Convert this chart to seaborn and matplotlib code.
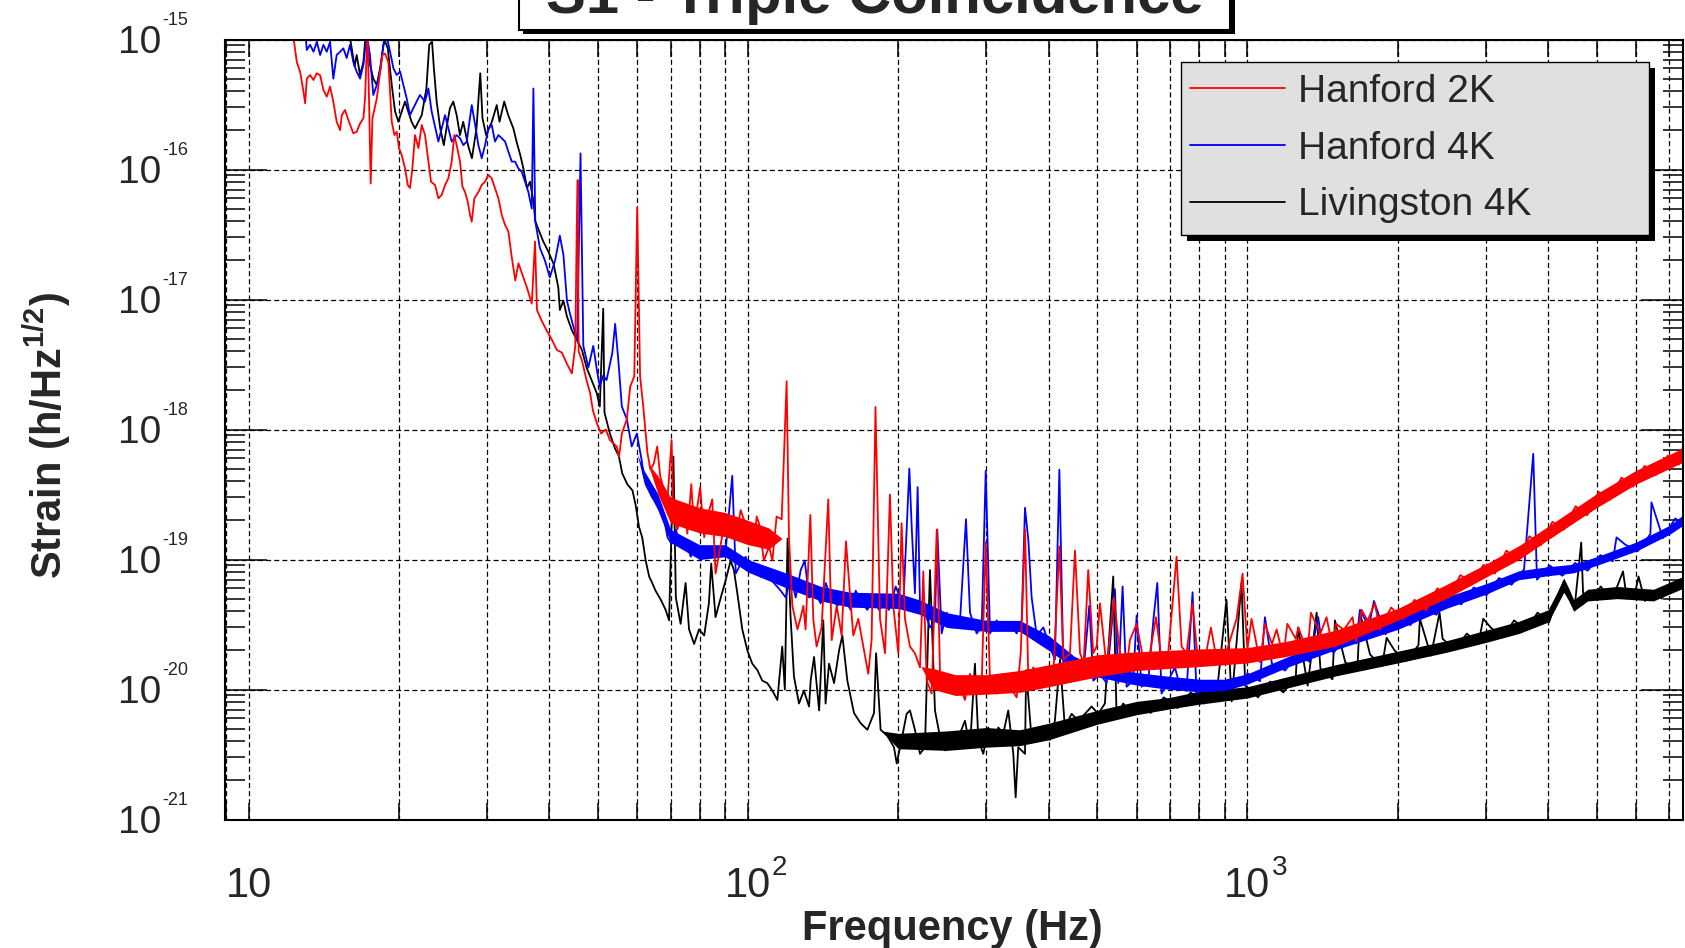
import numpy as np
import pandas as pd
import matplotlib
matplotlib.use("Agg")
import matplotlib.pyplot as plt
import matplotlib.transforms as mtrans
from matplotlib.patches import Rectangle
from matplotlib.ticker import FixedLocator, LogLocator, NullFormatter, FixedFormatter
import seaborn as sns

# ---------------- data ----------------
title_text = "S1 - Triple Coincidence"
series_names = ["Hanford 2K", "Hanford 4K", "Livingston 4K"]
series_colors = ["#ff0000", "#0000ff", "#000000"]

xtick_values = [10, 100, 1000]
xtick_base = ["10", "10", "10"]
xtick_exp = ["", "2", "3"]
ytick_values = [1e-21, 1e-20, 1e-19, 1e-18, 1e-17, 1e-16, 1e-15]
ytick_base = ["10"] * 7
ytick_exp = ["-21", "-20", "-19", "-18", "-17", "-16", "-15"]
x_range = (8.97, 7450)
y_range = (1e-21, 1e-15)

# (frequency Hz, strain 1/sqrt(Hz)) readings of each trace
h2k_points = [
    (12.2, 1.3e-15), (12.49, 6.7e-16), (12.68, 5.66e-16), (12.88, 3.97e-16), (12.98, 3.23e-16),
    (13.08, 5.0e-16), (13.28, 5.33e-16), (13.49, 4.88e-16), (13.70, 5.5e-16), (13.91, 5.3e-16),
    (14.12, 4.09e-16), (14.34, 3.63e-16), (14.56, 4.34e-16), (14.78, 3.33e-16), (15.01, 2.33e-16),
    (15.25, 2.01e-16), (15.37, 2.62e-16), (15.60, 2.87e-16), (15.84, 2.40e-16), (16.21, 1.90e-16),
    (16.46, 1.95e-16), (16.72, 2.26e-16), (16.98, 2.48e-16), (17.11, 3.52e-16), (17.30, 1.2e-15),
    (17.43, 3.3e-16), (17.56, 7.8e-17), (17.70, 2.48e-16), (18.06, 3.52e-16), (18.34, 5.66e-16),
    (18.53, 7.6e-16), (18.76, 7.8e-16), (19.05, 6.7e-16), (19.20, 3.97e-16), (19.35, 2.33e-16),
    (19.59, 1.84e-16), (19.80, 1.95e-16), (20.01, 1.46e-16), (20.26, 1.29e-16), (20.57, 1.02e-16),
    (20.83, 7.6e-17), (21.05, 7.2e-17), (21.28, 1.02e-16), (21.54, 1.84e-16), (21.88, 1.46e-16),
    (22.22, 2.2e-16), (22.56, 1.84e-16), (22.91, 1.15e-16), (23.19, 8.05e-17), (23.62, 7.6e-17),
    (23.99, 6.0e-17), (24.36, 6.37e-17), (24.74, 7.6e-17), (25.12, 8.55e-17), (25.51, 1.15e-16),
    (25.82, 1.84e-16), (26.10, 1.54e-16), (26.51, 1.15e-16), (26.80, 7.4e-17), (27.13, 6.7e-17),
    (27.47, 5.66e-17), (27.76, 4.47e-17), (27.98, 3.97e-17), (28.32, 6.0e-17), (28.85, 6.7e-17),
    (29.30, 7.6e-17), (29.75, 8.05e-17), (30.21, 9.1e-17), (30.68, 8.55e-17), (31.15, 7.2e-17),
    (31.64, 6.0e-17), (32.13, 4.47e-17), (32.63, 3.74e-17), (33.13, 3.33e-17), (33.6, 2.2e-17),
    (34.2, 1.4e-17), (34.7, 1.9e-17), (35.5, 1.48e-17), (36.1, 1.23e-17), (36.9, 9.3e-18),
    (37.46, 2.79e-17), (37.8, 8.3e-18), (38.6, 6.9e-18), (39.5, 5.8e-18), (40.5, 4.9e-18),
    (41.4, 4.1e-18), (42.4, 3.9e-18), (43.4, 3.2e-18), (44.4, 2.7e-18), (45.1, 4.4e-18),
    (45.4, 3.5e-17), (45.6, 8.3e-17), (45.8, 4.0e-18), (46.5, 3.4e-18), (47.5, 2.4e-18),
    (48.3, 1.9e-18), (48.9, 1.41e-18), (49.8, 1.12e-18), (50.8, 9.3e-19), (51.9, 1.0e-18),
    (52.9, 8.3e-19), (54.6, 7.4e-19), (55.2, 6.2e-19), (55.9, 9.3e-19), (57.2, 1.2e-18),
    (58.1, 2.14e-18), (59.2, 2.57e-18), (60.0, 5.1e-17), (60.8, 2.57e-18), (61.7, 1.5e-18),
    (62.9, 6.6e-19), (63.8, 4.9e-19), (64.8, 5.5e-19), (65.8, 7.4e-19), (66.7, 4.4e-19),
    (67.9, 3.4e-19), (69.0, 2.9e-19), (70.3, 8.3e-19), (70.9, 2.24e-19), (72.2, 1.7e-19),
    (74.5, 2.7e-19), (75.6, 1.58e-19), (77.0, 3.8e-19), (78.0, 1.7e-19), (80.2, 3.6e-19),
    (81.7, 1.48e-19), (82.9, 2.14e-19), (84.8, 2.9e-19), (86.1, 7.8e-20), (88.2, 1.32e-19),
    (90.2, 2.14e-19), (92.3, 1.7e-19), (94.5, 1.48e-19), (96.7, 2.4e-19), (98.2, 2.0e-19),
    (100.5, 1.41e-19), (102.8, 1.32e-19), (104.1, 2.14e-19), (105.2, 1.9e-19), (107.6, 9.8e-20),
    (110.2, 1.26e-19), (111.9, 9.8e-20), (114.1, 2.14e-19), (116.8, 2.04e-19), (119.5, 2.35e-18),
    (120.8, 1.48e-19), (122.7, 4.4e-20), (125.6, 2.9e-20), (127.5, 3.6e-20), (129.1, 4.4e-20),
    (130.4, 2.9e-20), (133.3, 2.2e-19), (135.1, 3.5e-20), (137.2, 2.14e-20), (140.4, 3.0e-20),
    (144.8, 2.9e-19), (147.1, 2.4e-20), (150.5, 4.4e-20), (154.0, 2.6e-20), (157.1, 1.38e-19),
    (160.0, 5.5e-20), (162.5, 2.6e-20), (166.3, 3.5e-20), (170.2, 2.14e-20), (174.1, 1.32e-20),
    (176.8, 2.4e-20), (180.0, 1.49e-18), (183.8, 3.5e-20), (188.1, 1.9e-20), (192.4, 3.16e-19),
    (195.4, 4.4e-20), (200.0, 1.9e-20), (203.0, 1.9e-19), (206.2, 3.5e-20), (211.0, 2.14e-20),
    (215.9, 1.9e-20), (221.0, 1.48e-20), (224.4, 8.1e-20), (227.9, 1.17e-20), (233.2, 9.3e-21),
    (238.7, 1.7e-19), (242.4, 1.32e-20), (249.9, 1.05e-20), (257.7, 9.3e-21), (263.8, 1.17e-20),
    (271.9, 8.3e-21), (278.3, 1.32e-20), (287.0, 9.3e-21), (293.7, 1.12e-20), (299.2, 1.35e-19),
    (305.2, 1.17e-20), (314.7, 9.3e-21), (324.5, 1.32e-20), (334.6, 1.05e-20), (345.1, 8.7e-21),
    (351.6, 1.9e-20), (358.7, 1.7e-19), (364.2, 1.17e-20), (372.7, 1.48e-20), (384.3, 1.17e-20),
    (396.3, 1.48e-20), (408.7, 1.32e-20), (420.2, 1.26e-19), (428.0, 1.7e-20), (441.3, 1.9e-20),
    (451.6, 1.17e-19), (462.2, 1.9e-20), (470.0, 1.6e-20), (480.0, 8.3e-20), (491.3, 1.9e-20),
    (498.9, 2.14e-20), (506.7, 4.6e-20), (522.4, 1.48e-20), (540.4, 5.1e-20), (555.5, 1.9e-20),
    (572.9, 1.48e-20), (581.8, 2.4e-20), (600.0, 3.2e-20), (618.7, 1.7e-20), (638.0, 1.9e-20),
    (656.0, 3.6e-20), (673.2, 1.7e-20), (694.1, 1.9e-20), (721.3, 1.05e-19), (738.2, 2.14e-20),
    (755.3, 1.9e-20), (776.5, 4.6e-20), (797.1, 1.58e-20), (822.0, 1.7e-20), (845.0, 3.0e-20),
    (867.7, 1.7e-20), (901.6, 1.78e-20), (951.3, 3.5e-20), (977.9, 7.8e-20), (1000, 2.04e-20),
    (1019, 3.5e-20), (1060, 1.62e-20), (1084, 3.2e-20), (1120, 2.24e-20), (1144, 2.9e-20),
    (1180, 1.78e-20), (1202, 3.2e-20), (1250, 2.45e-20), (1264, 3.0e-20), (1320, 1.95e-20),
    (1340, 3.9e-20), (1400, 2.69e-20), (1440, 3.6e-20), (1480, 2.14e-20), (1504, 3.2e-20),
    (1560, 2.88e-20), (1624, 3.6e-20), (1650, 2.34e-20), (1693, 4.1e-20), (1740, 3.39e-20),
    (1800, 4.6e-20), (1840, 2.88e-20), (1940, 4.27e-20), (2050, 3.47e-20), (2160, 4.9e-20),
    (2280, 4.07e-20), (2400, 6.0e-20), (2530, 5.1e-20), (2670, 7.6e-20), (2820, 6.5e-20),
    (2970, 9.1e-20), (3130, 7.8e-20), (3300, 1.17e-19), (3480, 1.0e-19), (3670, 1.51e-19),
    (3870, 1.29e-19), (4080, 1.95e-19), (4300, 1.7e-19), (4540, 2.57e-19), (4790, 2.19e-19),
    (5050, 3.31e-19), (5320, 2.88e-19), (5610, 4.27e-19), (5920, 3.63e-19), (6240, 5.25e-19),
    (6580, 4.47e-19), (6940, 6.3e-19), (7310, 5.37e-19), (7450, 7.4e-19),
]

h4k_points = [
    (8.97, 9.3e-16), (9.1, 1.5e-15), (12.9, 1.5e-15), (13.08, 8.3e-16), (13.28, 9.1e-16),
    (13.49, 8.05e-16), (13.70, 9.6e-16), (13.91, 7.6e-16), (14.12, 9.1e-16), (14.34, 8.05e-16),
    (14.56, 9.6e-16), (14.78, 5.0e-16), (15.01, 7.6e-16), (15.25, 8.05e-16), (15.48, 8.55e-16),
    (15.72, 7.2e-16), (15.96, 9.1e-16), (16.21, 6.7e-16), (16.46, 5.66e-16), (16.72, 5.0e-16),
    (16.98, 6.4e-16), (17.24, 1.1e-15), (17.50, 7.6e-16), (17.77, 3.74e-16), (18.06, 4.47e-16),
    (18.34, 5.66e-16), (18.61, 9.1e-16), (18.91, 1.05e-15), (19.20, 8.05e-16), (19.50, 6.0e-16),
    (19.80, 5.33e-16), (20.11, 5.66e-16), (20.42, 4.47e-16), (20.73, 3.52e-16), (21.05, 2.62e-16),
    (21.37, 2.96e-16), (21.70, 3.33e-16), (22.04, 3.74e-16), (22.56, 3.33e-16), (22.91, 4.2e-16),
    (23.26, 2.79e-16), (23.99, 1.64e-16), (24.36, 2.07e-16), (24.74, 2.62e-16), (25.12, 2.07e-16),
    (25.51, 1.64e-16), (26.10, 1.84e-16), (26.51, 1.74e-16), (26.92, 1.54e-16), (27.34, 1.64e-16),
    (27.98, 3.13e-16), (28.50, 2.07e-16), (28.85, 1.54e-16), (29.30, 1.22e-16), (29.75, 1.54e-16),
    (30.21, 2.07e-16), (30.68, 2.2e-16), (31.15, 1.64e-16), (31.64, 1.84e-16), (32.13, 1.74e-16),
    (32.63, 1.64e-16), (33.13, 1.37e-16), (33.65, 1.15e-16), (34.16, 1.15e-16), (34.69, 1.02e-16),
    (35.24, 9.6e-17), (35.78, 8.05e-17), (36.33, 6.7e-17), (36.90, 5.0e-17), (37.18, 4.2e-16),
    (37.5, 4.0e-17), (38.3, 2.5e-17), (39.2, 2.0e-17), (40.1, 1.48e-17), (41.1, 2.0e-17),
    (42.0, 3.1e-17), (42.7, 2.2e-17), (43.4, 9.8e-18), (44.0, 7.8e-18), (44.7, 6.2e-18),
    (45.5, 4.9e-18), (46.2, 1.33e-16), (46.8, 4.4e-18), (47.9, 3.0e-18), (49.0, 4.4e-18),
    (49.8, 2.9e-18), (50.5, 2.14e-18), (51.3, 2.6e-18), (52.1, 2.4e-18), (53.5, 3.9e-18),
    (54.2, 6.5e-18), (55.0, 3.4e-18), (55.9, 1.5e-18), (57.2, 1.2e-18), (58.5, 7.4e-19),
    (59.9, 9.3e-19), (61.2, 5.9e-19), (61.9, 4.4e-19), (62.9, 3.6e-19), (64.3, 3.0e-19),
    (65.8, 2.7e-19), (67.4, 2.4e-19), (69.0, 1.48e-19), (70.3, 1.32e-19), (71.7, 1.7e-19),
    (73.3, 1.26e-19), (75.0, 1.41e-19), (76.8, 1.05e-19), (78.6, 1.26e-19), (80.4, 9.8e-20),
    (82.3, 1.12e-19), (84.2, 1.05e-19), (86.1, 1.17e-19), (88.2, 1.26e-19), (90.2, 1.17e-19),
    (93.0, 4.4e-19), (94.5, 7.8e-20), (96.7, 9.3e-20), (98.9, 1.05e-19), (101.2, 8.3e-20),
    (103.6, 8.3e-20), (106.0, 7.4e-20), (109.3, 7.4e-20), (112.7, 6.6e-20), (116.3, 5.75e-20),
    (119.0, 5.1e-20), (121.7, 7.4e-20), (124.6, 5.1e-20), (127.5, 8.3e-20), (129.9, 9.8e-20),
    (132.5, 5.1e-20), (136.6, 5.5e-20), (139.8, 4.6e-20), (143.1, 6.6e-20), (146.4, 5.1e-20),
    (151.0, 4.4e-20), (155.7, 5.1e-20), (160.5, 4.1e-20), (164.3, 5.75e-20), (169.4, 4.6e-20),
    (173.4, 4.1e-20), (177.4, 5.1e-20), (183.0, 4.1e-20), (187.2, 4.6e-20), (191.6, 4.1e-20),
    (197.6, 6.2e-20), (204.6, 4.4e-20), (210.4, 5.0e-19), (212.7, 1.78e-19), (215.9, 5.5e-20),
    (218.6, 3.6e-19), (221.0, 4.4e-20), (226.1, 3.9e-20), (231.4, 3.0e-20), (236.8, 3.4e-20),
    (239.3, 1.7e-19), (244.2, 2.7e-20), (249.9, 3.9e-20), (257.7, 3.0e-20), (265.8, 3.4e-20),
    (273.2, 2.04e-19), (278.3, 3.9e-20), (287.0, 2.7e-20), (293.7, 3.0e-20), (299.2, 4.8e-19),
    (305.2, 2.7e-20), (314.7, 3.4e-20), (324.5, 2.9e-20), (334.6, 3.2e-20), (345.1, 2.7e-20),
    (353.2, 3.4e-20), (358.6, 2.5e-19), (364.2, 1.41e-19), (369.8, 5.1e-20), (378.5, 2.6e-20),
    (390.3, 3.0e-20), (402.3, 2.14e-20), (411.6, 1.7e-20), (420.2, 4.9e-19), (428.0, 1.48e-20),
    (441.3, 1.7e-20), (455.0, 1.48e-20), (469.2, 1.32e-20), (482.3, 4.4e-20), (491.3, 1.17e-20),
    (506.7, 1.32e-20), (522.4, 1.12e-20), (542.9, 5.9e-20), (551.3, 1.12e-20), (562.4, 6.2e-20),
    (572.9, 1.05e-20), (590.6, 1.17e-20), (600.0, 3.7e-20), (614.0, 1.05e-20), (633.2, 1.17e-20),
    (648.0, 3.4e-20), (660.0, 6.6e-20), (673.2, 9.3e-21), (694.1, 1.17e-20), (715.9, 1.48e-20),
    (732.9, 1.05e-20), (755.3, 9.8e-21), (776.5, 5.6e-20), (791.0, 9.3e-21), (815.7, 1.05e-20),
    (841.4, 9.8e-21), (867.7, 1.12e-20), (894.7, 9.8e-21), (922.6, 1.12e-20), (951.3, 1.17e-20),
    (981.1, 1.12e-20), (1000, 1.33e-20), (1060, 1.16e-20), (1084, 3.6e-20), (1120, 1.57e-20),
    (1190, 1.40e-20), (1260, 1.88e-20), (1330, 1.64e-20), (1386, 3.6e-20), (1410, 2.21e-20),
    (1490, 1.93e-20), (1580, 2.6e-20), (1650, 2.26e-20), (1680, 4.1e-20), (1750, 3.05e-20),
    (1792, 4.8e-20), (1890, 2.66e-20), (2000, 3.5e-20), (2120, 3.13e-20), (2250, 4.2e-20),
    (2390, 3.76e-20), (2530, 5.07e-20), (2680, 4.52e-20), (2840, 6.1e-20), (3010, 5.3e-20),
    (3190, 7.2e-20), (3380, 6.4e-20), (3580, 8.4e-20), (3735, 6.5e-19), (3800, 7.0e-20),
    (4030, 9.0e-20), (4270, 7.5e-20), (4530, 9.4e-20), (4800, 8.2e-20), (5090, 1.08e-19),
    (5390, 9.7e-20), (5483, 1.48e-19), (5710, 1.30e-19), (6050, 1.16e-19), (6410, 1.57e-19),
    (6442, 2.75e-19), (6790, 1.46e-19), (7190, 2.07e-19), (7450, 1.84e-19),
]

l4k_points = [
    (15.8, 1.3e-15), (16.09, 8.55e-16), (16.3, 6.2e-16), (16.46, 7.6e-16), (16.72, 5.33e-16),
    (16.98, 6.7e-16), (17.11, 9.6e-16), (17.50, 6.4e-16), (17.77, 5.0e-16), (18.06, 4.47e-16),
    (18.34, 6.0e-16), (18.7, 1.0e-15), (19.0, 8.55e-16), (19.35, 4.47e-16), (19.65, 2.79e-16),
    (19.95, 2.33e-16), (20.26, 2.79e-16), (20.57, 3.33e-16), (20.88, 2.79e-16), (21.2, 2.33e-16),
    (21.54, 2.07e-16), (22.22, 2.62e-16), (22.7, 4.2e-16), (23.0, 9.1e-16), (23.3, 9.6e-16),
    (23.5, 6.0e-16), (23.8, 3.33e-16), (24.2, 2.07e-16), (24.6, 1.54e-16), (24.9, 2.07e-16),
    (25.3, 2.96e-16), (25.7, 3.33e-16), (26.1, 2.62e-16), (26.5, 1.84e-16), (26.9, 2.33e-16),
    (27.5, 1.54e-16), (28.0, 1.22e-16), (28.6, 2.07e-16), (29.1, 5.5e-16), (29.4, 2.48e-16),
    (29.9, 1.84e-16), (30.7, 2.33e-16), (31.4, 3.13e-16), (31.8, 2.33e-16), (32.5, 3.33e-16),
    (33.1, 2.62e-16), (33.9, 2.07e-16), (34.4, 1.64e-16), (35.0, 1.29e-16), (35.5, 1.02e-16),
    (36.1, 7.2e-17), (36.6, 8.05e-17), (37.2, 5.66e-17), (37.5, 4.0e-17), (38.9, 2.8e-17),
    (39.8, 2.35e-17), (40.8, 1.88e-17), (41.7, 1.24e-17), (42.0, 8.3e-18), (42.7, 9.8e-18),
    (43.4, 7.4e-18), (44.4, 5.8e-18), (45.4, 4.9e-18), (46.5, 4.1e-18), (47.5, 3.0e-18),
    (48.6, 2.4e-18), (49.8, 1.9e-18), (50.5, 1.5e-18), (51.3, 8.5e-18), (51.6, 1.35e-18),
    (52.9, 9.3e-19), (54.2, 7.1e-19), (55.1, 6.3e-19), (56.0, 4.6e-19), (57.3, 3.8e-19),
    (58.7, 3.4e-19), (59.6, 2.6e-19), (60.5, 1.78e-19), (61.4, 1.48e-19), (62.4, 9.8e-20),
    (63.4, 7.4e-20), (64.3, 6.6e-20), (65.3, 5.75e-20), (66.9, 4.9e-20), (68.4, 4.1e-20),
    (69.5, 3.4e-20), (70.9, 6.2e-19), (71.7, 5.1e-20), (73.3, 3.2e-20), (75.0, 6.6e-20),
    (76.2, 2.9e-20), (78.0, 2.24e-20), (79.8, 2.9e-20), (81.7, 2.6e-20), (83.5, 4.6e-20),
    (84.4, 9.3e-20), (86.1, 3.6e-20), (88.2, 5.1e-20), (90.2, 6.9e-20), (92.3, 9.8e-20),
    (93.7, 8.3e-20), (95.2, 5.5e-20), (97.4, 2.9e-20), (99.7, 2.0e-20), (102.0, 1.58e-20),
    (104.4, 1.41e-20), (106.8, 1.17e-20), (109.3, 1.12e-20), (111.9, 9.8e-21), (114.5, 8.3e-21),
    (117.1, 2.14e-20), (118.5, 1.0e-20), (120.0, 1.45e-19), (121.7, 3.6e-20), (123.6, 1.26e-20),
    (126.5, 7.8e-21), (129.4, 9.8e-21), (132.5, 7.4e-21), (133.5, 1.17e-20), (135.6, 1.78e-20),
    (138.8, 6.9e-21), (141.5, 3.4e-20), (143.0, 7.8e-21), (145.3, 1.58e-20), (148.7, 1.12e-20),
    (152.2, 2.0e-20), (154.5, 2.6e-20), (158.1, 1.17e-20), (163.0, 6.6e-21), (168.1, 5.5e-21),
    (173.4, 4.9e-21), (178.8, 6.6e-21), (180.5, 1.9e-20), (184.3, 4.9e-21), (190.1, 4.4e-21),
    (196.0, 3.6e-21), (198.5, 2.7e-21), (203.0, 4.1e-21), (207.8, 6.5e-21), (211.0, 6.9e-21),
    (215.9, 4.9e-21), (221.0, 3.2e-21), (226.1, 3.6e-21), (231.4, 8.3e-20), (236.8, 6.9e-21),
    (242.4, 4.3e-21), (248.0, 3.4e-21), (253.8, 4.6e-21), (259.7, 3.6e-21), (265.8, 4.6e-21),
    (271.9, 5.75e-21), (278.3, 3.6e-21), (284.7, 1.58e-20), (289.2, 4.1e-21), (295.9, 3.2e-21),
    (302.8, 5.1e-21), (309.9, 3.8e-21), (317.1, 5.1e-21), (324.5, 4.6e-21), (332.0, 6.9e-21),
    (339.8, 3.2e-21), (343.5, 1.48e-21), (347.6, 3.6e-21), (358.6, 3.2e-21), (360.5, 1.41e-20),
    (369.8, 4.1e-21), (381.3, 4.3e-21), (393.2, 5.1e-21), (402.3, 4.1e-21), (411.6, 5.75e-21),
    (421.4, 1.7e-20), (431.0, 5.1e-21), (444.6, 6.5e-21), (458.5, 5.75e-21), (472.8, 6.5e-21),
    (487.5, 7.4e-21), (502.6, 6.5e-21), (518.3, 7.8e-21), (538.6, 7.4e-20), (547.0, 6.3e-21),
    (564.1, 7.8e-21), (581.8, 6.6e-21), (600, 7.9e-21), (640, 6.6e-21), (680, 8.7e-21),
    (725, 7.2e-21), (770, 9.5e-21), (820, 7.8e-21), (870, 1.0e-20), (908, 4.9e-20),
    (930, 8.1e-21), (973, 6.6e-20), (990, 1.07e-20), (1050, 8.7e-21), (1110, 1.15e-20),
    (1180, 9.5e-21), (1250, 1.26e-20), (1264, 3.0e-20), (1320, 1.07e-20), (1376, 3.9e-20),
    (1400, 1.45e-20), (1480, 1.2e-20), (1497, 3.4e-20), (1570, 1.62e-20), (1660, 1.41e-20),
    (1680, 3.9e-20), (1760, 1.86e-20), (1860, 1.51e-20), (1900, 2.5e-20), (1970, 2.0e-20),
    (2080, 1.66e-20), (2200, 2.19e-20), (2215, 3.5e-20), (2330, 1.82e-20), (2425, 3.9e-20),
    (2460, 2.45e-20), (2600, 2.04e-20), (2750, 2.69e-20), (2900, 2.24e-20), (2966, 3.5e-20),
    (3070, 3.0e-20), (3240, 2.51e-20), (3420, 3.4e-20), (3610, 2.88e-20), (3810, 3.9e-20),
    (4020, 3.3e-20), (4160, 4.9e-20), (4300, 6.8e-20), (4400, 5.5e-20), (4520, 4.3e-20),
    (4660, 1.35e-19), (4700, 5.5e-20), (4900, 5.0e-20), (5100, 6.2e-20), (5300, 5.0e-20),
    (5500, 6.2e-20), (5650, 8.1e-20), (5750, 5.0e-20), (6000, 6.0e-20), (6070, 7.4e-20),
    (6250, 4.8e-20), (6500, 5.75e-20), (6750, 5.0e-20), (7000, 6.3e-20), (7200, 5.75e-20),
    (7450, 7.1e-20),
]

# core of the dense-noise band of each trace: segments of (frequency, lower edge, upper edge)
h2k_bands = [
    [(63, 5.5e-19, 5.5e-19), (66, 3.2e-19, 4.4e-19), (70, 1.9e-19, 3.0e-19),
     (80, 1.6e-19, 2.5e-19), (90, 1.5e-19, 2.3e-19), (100, 1.3e-19, 2.0e-19),
     (110, 1.2e-19, 1.75e-19), (117, 1.45e-19, 1.45e-19)],
    [(222, 1.5e-20, 1.5e-20), (235, 1.0e-20, 1.45e-20), (260, 9.0e-21, 1.3e-20),
     (300, 9.2e-21, 1.3e-20), (350, 9.5e-21, 1.4e-20), (400, 1.05e-20, 1.55e-20),
     (500, 1.25e-20, 1.85e-20), (600, 1.4e-20, 1.95e-20), (800, 1.5e-20, 2.05e-20),
     (1000, 1.6e-20, 2.1e-20), (1200, 1.8e-20, 2.35e-20), (1500, 2.15e-20, 2.85e-20),
     (2000, 3.4e-20, 4.2e-20), (2500, 5.0e-20, 6.4e-20), (3000, 7.3e-20, 9.2e-20),
     (3500, 1.0e-19, 1.28e-19), (4000, 1.42e-19, 1.8e-19), (5000, 2.5e-19, 3.2e-19),
     (6000, 3.8e-19, 4.85e-19), (7450, 5.6e-19, 7.2e-19)],
]
h4k_bands = [
    [(60, 6.5e-19, 6.5e-19), (62, 3.8e-19, 4.8e-19), (66, 2.4e-19, 3.2e-19),
     (70, 1.35e-19, 1.7e-19), (80, 1.0e-19, 1.3e-19), (90, 1.05e-19, 1.3e-19),
     (100, 8.0e-20, 1.0e-19), (120, 6.0e-20, 7.8e-20), (140, 4.8e-20, 6.2e-20),
     (160, 4.3e-20, 5.6e-20), (200, 4.2e-20, 5.5e-20), (220, 3.8e-20, 4.9e-20),
     (250, 3.0e-20, 3.9e-20), (300, 2.8e-20, 3.4e-20), (350, 2.8e-20, 3.4e-20),
     (400, 2.0e-20, 2.6e-20), (450, 1.45e-20, 1.8e-20), (500, 1.25e-20, 1.5e-20),
     (600, 1.08e-20, 1.35e-20), (700, 1.0e-20, 1.26e-20), (800, 9.6e-21, 1.2e-20),
     (900, 9.8e-21, 1.2e-20), (1000, 1.1e-20, 1.32e-20), (1200, 1.48e-20, 1.78e-20),
     (1500, 2.02e-20, 2.45e-20), (2000, 2.9e-20, 3.5e-20), (2500, 4.2e-20, 5.15e-20),
     (3000, 5.4e-20, 6.5e-20), (3500, 7.0e-20, 8.2e-20), (4000, 7.5e-20, 8.8e-20),
     (4500, 7.9e-20, 9.2e-20), (5000, 9.0e-20, 1.05e-19), (6000, 1.16e-19, 1.36e-19),
     (7000, 1.56e-19, 1.83e-19), (7450, 1.83e-19, 2.2e-19)],
]
l4k_bands = [
    [(185, 4.8e-21, 4.8e-21), (200, 3.5e-21, 4.6e-21), (250, 3.4e-21, 4.8e-21),
     (300, 3.6e-21, 5.1e-21), (350, 3.7e-21, 4.9e-21), (400, 4.1e-21, 5.5e-21),
     (500, 5.4e-21, 6.9e-21), (600, 6.4e-21, 8.1e-21), (700, 7.1e-21, 8.7e-21),
     (800, 7.7e-21, 9.7e-21), (1000, 8.6e-21, 1.05e-20), (1500, 1.27e-20, 1.55e-20),
     (2000, 1.6e-20, 1.97e-20), (2500, 1.93e-20, 2.37e-20), (3000, 2.3e-20, 2.85e-20),
     (3500, 2.7e-20, 3.35e-20), (4000, 3.3e-20, 4.1e-20), (4150, 4.3e-20, 5.4e-20),
     (4300, 5.6e-20, 7.2e-20), (4400, 4.8e-20, 6.0e-20), (4500, 4.0e-20, 4.9e-20),
     (4800, 4.8e-20, 5.9e-20), (5500, 5.0e-20, 6.2e-20), (6500, 4.8e-20, 5.9e-20),
     (7450, 6.0e-20, 7.4e-20)],
]

# ---------------- styling ----------------
sns.set_theme(style="white")
plt.rcParams['font.family'] = ['Liberation Sans', 'DejaVu Sans']
plt.rcParams['mathtext.fontset'] = 'custom'
plt.rcParams['mathtext.rm'] = 'Liberation Sans'
plt.rcParams['mathtext.it'] = 'Liberation Sans:italic'
plt.rcParams['mathtext.bf'] = 'Liberation Sans:bold'

W, H = 1685, 948
DPI = 100
fig = plt.figure(figsize=(W / DPI, H / DPI), dpi=DPI)
fig.patch.set_facecolor("white")


def fx(px):
    return px / W


def fy(py):
    return 1 - py / H


AX_L, AX_R, AX_T, AX_B = 225, 1683, 39.5, 819.5
AX_W, AX_H = AX_R - AX_L, AX_B - AX_T
ax = fig.add_axes([fx(AX_L), fy(AX_B), AX_W / W, AX_H / H])
ax.set_facecolor("white")
ax.set_xscale("log")
ax.set_yscale("log")

frames = []
for name, pts in zip(series_names, [h2k_points, h4k_points, l4k_points]):
    d = pd.DataFrame(pts, columns=["freq", "strain"])
    d["detector"] = name
    frames.append(d)
df = pd.concat(frames, ignore_index=True)

bands = dict(zip(series_names, [h2k_bands, h4k_bands, l4k_bands]))

handles = {}
# draw Livingston first, Hanford 2K last (on top), as in the reference
for name, color in reversed(list(zip(series_names, series_colors))):
    for seg in bands[name]:
        b = pd.DataFrame(seg, columns=["freq", "low", "high"])
        ax.fill_between(b["freq"], b["low"], b["high"], color=color, lw=0, zorder=2)
    sub = df[df["detector"] == name]
    sns.lineplot(data=sub, x="freq", y="strain", ax=ax, color=color, lw=1.3,
                 sort=False, estimator=None, legend=False, zorder=2)
    handles[name] = ax.lines[-1]

ax.set_xlim(*x_range)
ax.set_ylim(*y_range)

# ticks
ax.xaxis.set_major_locator(FixedLocator(xtick_values))
ax.xaxis.set_major_formatter(FixedFormatter(xtick_base))
ax.xaxis.set_minor_locator(LogLocator(base=10, subs=np.arange(2, 10), numticks=30))
ax.xaxis.set_minor_formatter(NullFormatter())
ax.yaxis.set_major_locator(FixedLocator(ytick_values))
ax.yaxis.set_major_formatter(FixedFormatter(ytick_base))
ax.yaxis.set_minor_locator(LogLocator(base=10, subs=np.arange(2, 10), numticks=30))
ax.yaxis.set_minor_formatter(NullFormatter())

ax.tick_params(axis="x", which="both", direction="in", top=True, bottom=True,
               length=12.5, width=1.1, color="black", labelsize=30, pad=55.8)
ax.tick_params(axis="y", which="major", direction="in", left=True, right=True,
               length=30, width=1.1, color="black", labelsize=28, pad=46)
ax.tick_params(axis="y", which="minor", direction="in", left=True, right=True,
               length=14.5, width=1.1, color="black")

for sp in ax.spines.values():
    sp.set_visible(True)
    sp.set_color("black")
    sp.set_linewidth(1.5)

ax.set_axisbelow(True)
ax.grid(True, which="both", axis="x", color="black", linestyle=(0, (4, 2.5)), linewidth=0.9)
ax.grid(True, which="major", axis="y", color="black", linestyle=(0, (4, 2.5)), linewidth=0.9)
ax.grid(False, which="minor", axis="y")

# exponents of the tick labels (ROOT style 10 with small raised power)
ytrans = mtrans.blended_transform_factory(ax.transAxes, ax.transData)
yexp_off = mtrans.ScaledTranslation(0, 14.5 / DPI, fig.dpi_scale_trans)
for val, e in zip(ytick_values, ytick_exp):
    ax.text((162 - AX_L) / AX_W, val, e, transform=ytrans + yexp_off, ha="left",
            va="baseline", fontsize=13, clip_on=False)
xtrans = mtrans.blended_transform_factory(ax.transData, ax.transAxes)
xexp_off = mtrans.ScaledTranslation(24 / DPI, 0, fig.dpi_scale_trans)
for val, e in zip(xtick_values, xtick_exp):
    if e:
        ax.text(val, (AX_B - 875) / AX_H, e, transform=xtrans + xexp_off, ha="left",
                va="baseline", fontsize=20, clip_on=False)

# axis titles
ax.set_xlabel("Frequency (Hz)", fontsize=30, fontweight="bold")
ax.xaxis.set_label_coords((952 - AX_L) / AX_W, (AX_B - 940) / AX_H)
ax.xaxis.label.set_va("baseline")
ax.set_ylabel(r"Strain (h/Hz$^{\mathbf{1/2}}$)", fontsize=30, fontweight="bold")
ax.yaxis.set_label_coords((73 - AX_L) / AX_W, (AX_B - 435) / AX_H)

# legend box with shadow (ROOT style) + legend entries
shadow = Rectangle((fx(1187), fy(241)), (1655 - 1187) / W, (241 - 68) / H,
                   transform=fig.transFigure, facecolor="black", edgecolor="none",
                   zorder=4.4, clip_on=False)
box = Rectangle((fx(1181), fy(235)), (1649 - 1181) / W, (235 - 62) / H,
                transform=fig.transFigure, facecolor="#e0e0e0", edgecolor="black",
                linewidth=1.0, zorder=4.5, clip_on=False)
ax.add_patch(shadow)
ax.add_patch(box)
leg = ax.legend(handles=[handles[n] for n in series_names], labels=series_names,
                loc="upper left", bbox_to_anchor=(fx(1190), fy(74)),
                bbox_transform=fig.transFigure, frameon=False, fontsize=28,
                handlelength=2.44, handletextpad=0.33, borderpad=0.0,
                labelspacing=0.53, borderaxespad=0.0)
leg.set_zorder(6)

# title box
tshadow = Rectangle((fx(523), fy(34)), (1235 - 523) / W, 60 / H, transform=fig.transFigure,
                    facecolor="black", edgecolor="none", zorder=1)
tbox = Rectangle((fx(519), fy(30)), (1230 - 519) / W, 60 / H, transform=fig.transFigure,
                 facecolor="white", edgecolor="black", linewidth=1.5, zorder=1.5)
fig.add_artist(tshadow)
fig.add_artist(tbox)
fig.text(fx(874.5), fy(13), title_text, ha="center", va="baseline",
         fontsize=43, fontweight="bold", zorder=3)

# tick label alignment: baselines like the reference
fig.canvas.draw()
for lbl in ax.get_xticklabels():
    lbl.set_va("baseline")
off = mtrans.ScaledTranslation(0, -13.9 / DPI, fig.dpi_scale_trans)
for lbl in ax.get_yticklabels():
    lbl.set_va("baseline")
    lbl.set_transform(lbl.get_transform() + off)

fig.savefig("out.png", dpi=DPI, facecolor="white")
